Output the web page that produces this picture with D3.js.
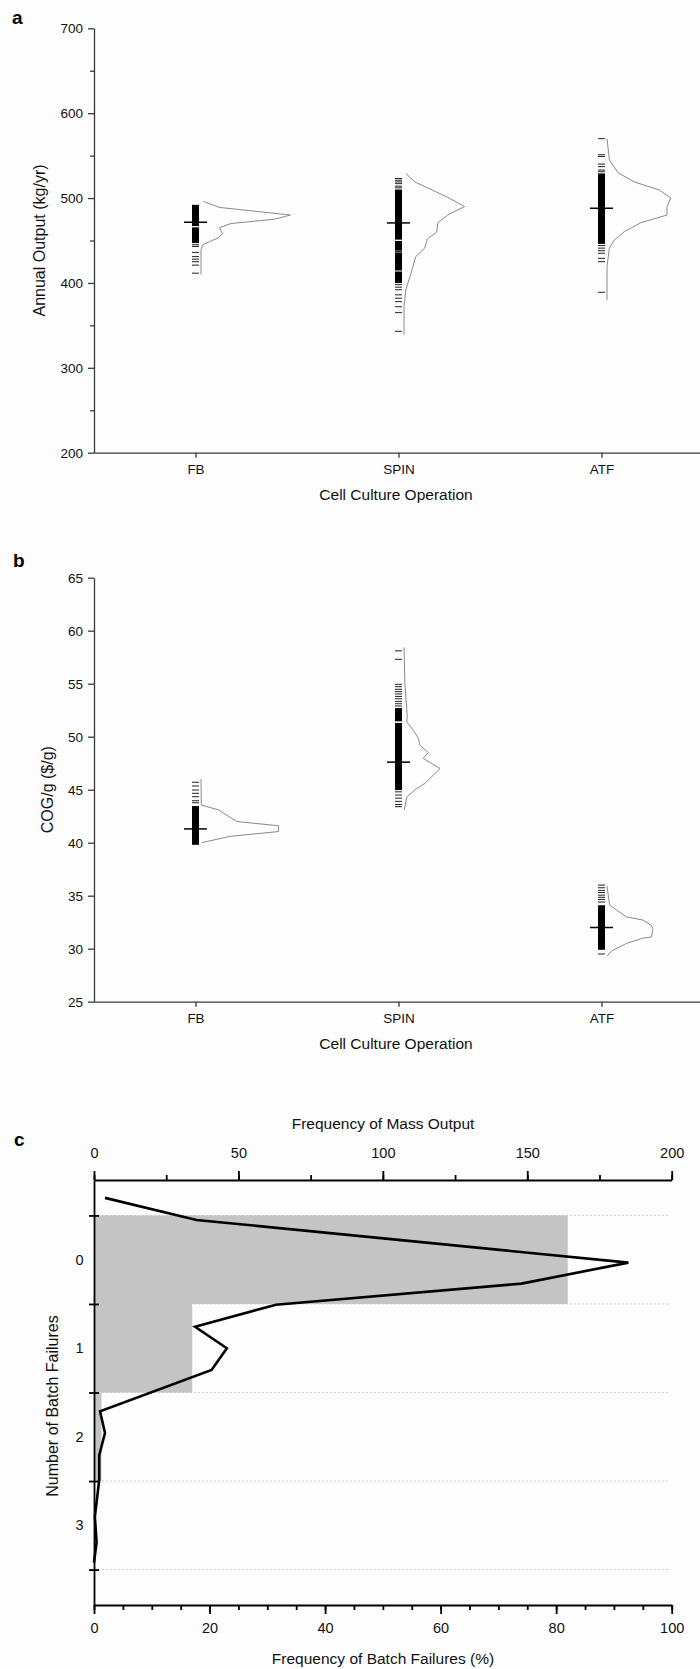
<!DOCTYPE html>
<html>
<head>
<meta charset="utf-8">
<script src="https://cdn.jsdelivr.net/npm/d3@7"></script>
<style>
  body { margin: 0; background: #fdfdfd; }
  svg { display: block; font-family: "Liberation Sans", Arial, sans-serif; }
  .ab .domain, .ab line { stroke: #3a3a3a; stroke-width: 1.3; }
  .ab text { font-size: 13.5px; fill: #111; }
  .cx .domain, .cx line { stroke: #000; stroke-width: 1.8; }
  .cx text { font-size: 14.5px; fill: #111; }
  .title { font-size: 15.5px; fill: #111; }
  .ytitle { font-size: 16px; fill: #111; }
  .tag { font-size: 19px; font-weight: bold; fill: #000; }
</style>
</head>
<body>
<svg id="chart" width="700" height="1669"></svg>
<script>
const categories = ["FB", "SPIN", "ATF"];

// panel a: annual output (kg/yr)
const outputMeans = [471.5, 470.7, 488];
const outputRugBands = [
    [[467, 492], [447, 465.5]],
    [[451, 510], [438, 449.5], [415, 436], [400, 413]],
    [[446, 529]]
];
const outputRugLines = [
    [445, 443, 436, 431, 428, 425, 421, 411.5],
    [523, 521, 519, 517, 514, 512, 437, 414, 398, 395, 392, 386, 382, 378, 372, 365, 343],
    [570, 551, 549, 540, 537, 533, 531, 444, 441, 438, 435, 429, 425, 389]
];
// distribution curves: [value, frequency %]
const outputDist = [
    [[496, 0.8], [489, 6.1], [480, 29.8], [475, 24.4], [470, 10], [465, 6.1], [458, 7.2], [453, 5.6], [445, 0.6], [439, 0], [410, 0]],
    [[529, 0.6], [519, 3.6], [501, 14.5], [490, 20.2], [480, 14.5], [471, 11.3], [460, 10.9], [452, 7.8], [441, 6.9], [431, 3.9], [417, 2.8], [407.5, 2.0], [392, 0.6], [372, 0], [339, 0]],
    [[570, 0], [545, 0.8], [530, 3.6], [519, 9.1], [509.5, 17.4], [500, 21.3], [490, 20], [480, 20], [471, 11.3], [460.5, 5.8], [450.6, 2.4], [441, 0.8], [419.5, 0], [380, 0]]
];

// panel b: COG/g ($/g)
const cogMeans = [41.3, 47.6, 32.0];
const cogRugBands = [
    [[39.8, 43.46]],
    [[51.45, 52.7], [44.97, 51.3]],
    [[29.9, 34.1]]
];
const cogRugLines = [
    [45.7, 45.35, 44.97, 44.66, 44.34, 43.96, 43.77],
    [58.1, 57.3, 54.94, 54.72, 54.47, 54.25, 54.03, 53.8, 53.58, 53.33, 53.11, 52.9,
     44.8, 44.5, 44.2, 43.9, 43.6, 43.4],
    [36.0, 35.75, 35.5, 35.3, 35.05, 34.85, 34.65, 34.4, 29.5]
];
const cogDist = [
    [[46.0, 0], [43.55, 0.1], [43.1, 5.8], [42.0, 11.9], [41.6, 25.8], [41.05, 25.8], [40.6, 9.7], [40.0, 0.2]],
    [[58.4, 0], [55.0, 0.3], [51.9, 1.1], [51.4, 0.9], [50.6, 3.1], [49.85, 4.8], [49.2, 5.3], [48.5, 8.1], [47.95, 6.4], [47.0, 12], [45.6, 7], [45.0, 3.7], [44.3, 0.9], [43.1, 0.1]],
    [[35.9, 0], [34.1, 0.9], [33.0, 6.5], [32.7, 12], [32.2, 14.8], [31.9, 15.3], [31.1, 14.8], [31.0, 12], [30.5, 6.5], [29.8, 1.6], [29.3, 0]]
];

// panel c: batch failures
const failureCounts = [0, 1, 2, 3];
const failurePct = [82, 17, 1.3, 0];
// frequency of mass output, positioned on the batch-failure axis
const massBins = [-0.698, -0.449, 0.033, 0.27, 0.508, 0.757, 1.0, 1.246, 1.713, 1.958, 2.21, 2.49, 2.905, 3.19, 3.42];
const massFreq = [3.8, 35.5, 185, 148, 63, 35, 46, 40.7, 2.1, 3.8, 1.8, 1.8, 0.3, 0.9, 0];

const svg = d3.select("#chart");

const xCat = d3.scaleLinear().domain([0.5, 3.5]).range([94, 703]);
const distW = d3.scaleLinear().domain([0, 30]).range([0, 90]);

function drawPanel(g, y, yTicks, yMinor, means, bands, lines, dists, yTitle, titleX, axisY) {
    g.append("g").attr("class", "ab")
        .attr("transform", `translate(${xCat.range()[0]},0)`)
        .call(d3.axisLeft(y).tickValues(yTicks).tickSize(6).tickPadding(5).tickSizeOuter(0));
    if (yMinor.length) {
        g.append("g").attr("class", "ab")
            .attr("transform", `translate(${xCat.range()[0]},0)`)
            .call(d3.axisLeft(y).tickValues(yMinor).tickSize(4).tickFormat("").tickSizeOuter(0))
            .select(".domain").remove();
    }
    g.append("g").attr("class", "ab")
        .attr("transform", `translate(0,${axisY})`)
        .call(d3.axisBottom(xCat).tickValues([1, 2, 3]).tickFormat(d => categories[d - 1])
            .tickSize(5).tickPadding(7).tickSizeOuter(0));

    categories.forEach((c, i) => {
        const cx = xCat(i + 1);
        const rug = g.append("g");
        bands[i].forEach(b => {
            rug.append("rect")
                .attr("x", cx - 3.5).attr("width", 7)
                .attr("y", y(b[1])).attr("height", y(b[0]) - y(b[1]))
                .attr("fill", "#000");
        });
        lines[i].forEach(v => {
            rug.append("line")
                .attr("x1", cx - 3.5).attr("x2", cx + 3.5)
                .attr("y1", y(v)).attr("y2", y(v))
                .attr("stroke", "#222").attr("stroke-width", 1);
        });
        g.append("line")
            .attr("x1", cx - 11.5).attr("x2", cx + 11.5)
            .attr("y1", y(means[i])).attr("y2", y(means[i]))
            .attr("stroke", "#000").attr("stroke-width", 1.5);
        const base = cx + 5.5;
        g.append("path")
            .datum(dists[i])
            .attr("fill", "none").attr("stroke", "#8a8a8a").attr("stroke-width", 1)
            .attr("d", d3.line().x(d => base + distW(d[1])).y(d => y(d[0])));
    });

    g.append("text").attr("class", "ytitle")
        .attr("transform", `translate(${titleX},${(y.range()[0] + y.range()[1]) / 2}) rotate(-90)`)
        .attr("text-anchor", "middle").attr("dominant-baseline", "central")
        .text(yTitle);
    g.append("text").attr("class", "title")
        .attr("x", 396).attr("y", axisY + 47)
        .attr("text-anchor", "middle")
        .text("Cell Culture Operation");
}

// panel a
const yA = d3.scaleLinear().domain([200, 700]).range([452.7, 28.3]);
const gA = svg.append("g");
drawPanel(gA, yA, d3.range(200, 701, 100), d3.range(250, 700, 100),
    outputMeans, outputRugBands, outputRugLines, outputDist, "Annual Output (kg/yr)", 39, 452.7);
svg.append("text").attr("class", "tag").attr("x", 12).attr("y", 24).text("a");

// panel b
const yB = d3.scaleLinear().domain([25, 65]).range([1001.7, 577.7]);
const gB = svg.append("g");
drawPanel(gB, yB, d3.range(25, 66, 5), [],
    cogMeans, cogRugBands, cogRugLines, cogDist, "COG/g ($/g)", 47, 1001.7);
svg.append("text").attr("class", "tag").attr("x", 13).attr("y", 567).text("b");

// panel c
const xPct = d3.scaleLinear().domain([0, 100]).range([94, 671.7]);
const xMass = d3.scaleLinear().domain([0, 200]).range([94, 671.7]);
const yC = d3.scaleLinear().domain([-0.9, 3.9]).range([1180, 1605]);
const gC = svg.append("g");

// dotted grid at bin edges
gC.selectAll("line.grid")
    .data([-0.5, 0.5, 1.5, 2.5, 3.5])
    .enter().append("line")
    .attr("x1", xPct(0)).attr("x2", 670)
    .attr("y1", d => yC(d)).attr("y2", d => yC(d))
    .attr("stroke", "#cfcfcf").attr("stroke-width", 1).attr("stroke-dasharray", "2,2");

gC.selectAll("rect.bar")
    .data(failureCounts)
    .enter().append("rect")
    .attr("x", xPct(0))
    .attr("y", d => yC(d - 0.5))
    .attr("width", (d, i) => xPct(failurePct[i]) - xPct(0))
    .attr("height", d => yC(d + 0.5) - yC(d - 0.5))
    .attr("fill", "#c4c4c4");

gC.append("path")
    .datum(massBins.map((b, i) => [massFreq[i], b]))
    .attr("fill", "none").attr("stroke", "#000").attr("stroke-width", 2.6)
    .attr("stroke-linejoin", "miter")
    .attr("d", d3.line().x(d => xMass(d[0])).y(d => yC(d[1])));

// bottom axis
gC.append("g").attr("class", "cx")
    .attr("transform", `translate(0,${yC.range()[1]})`)
    .call(d3.axisBottom(xPct).tickValues(d3.range(0, 101, 5)).tickSize(5).tickFormat("").tickSizeOuter(0));
gC.append("g").attr("class", "cx")
    .attr("transform", `translate(0,${yC.range()[1]})`)
    .call(d3.axisBottom(xPct).tickValues(d3.range(0, 101, 20)).tickSize(9).tickPadding(9).tickSizeOuter(0))
    .select(".domain").remove();

// top axis
gC.append("g").attr("class", "cx")
    .attr("transform", `translate(0,${yC.range()[0]})`)
    .call(d3.axisTop(xMass).tickValues(d3.range(0, 201, 25)).tickSize(5).tickFormat("").tickSizeOuter(0));
gC.append("g").attr("class", "cx")
    .attr("transform", `translate(0,${yC.range()[0]})`)
    .call(d3.axisTop(xMass).tickValues(d3.range(0, 201, 50)).tickSize(9).tickPadding(13).tickSizeOuter(0))
    .select(".domain").remove();

// left axis: crossing ticks at bin edges, labels at counts
const leftAx = gC.append("g").attr("class", "cx")
    .attr("transform", `translate(${xPct(0)},0)`)
    .call(d3.axisLeft(yC).tickValues([-0.5, 0.5, 1.5, 2.5, 3.5]).tickSize(5).tickFormat("").tickSizeOuter(0));
leftAx.selectAll(".tick line").attr("x1", 5);
gC.append("g").attr("class", "cx")
    .attr("transform", `translate(${xPct(0)},0)`)
    .call(d3.axisLeft(yC).tickValues(failureCounts).tickFormat(d3.format("d")).tickSize(0).tickPadding(10.5))
    .select(".domain").remove();

gC.append("text").attr("class", "title")
    .attr("x", 383).attr("y", 1123).attr("text-anchor", "middle").attr("dominant-baseline", "central")
    .text("Frequency of Mass Output");
gC.append("text").attr("class", "title")
    .attr("x", 383).attr("y", 1658).attr("text-anchor", "middle").attr("dominant-baseline", "central")
    .text("Frequency of Batch Failures (%)");
gC.append("text").attr("class", "ytitle")
    .attr("transform", "translate(52,1406) rotate(-90)")
    .attr("text-anchor", "middle").attr("dominant-baseline", "central")
    .text("Number of Batch Failures");
svg.append("text").attr("class", "tag").attr("x", 14).attr("y", 1146).text("c");
</script>
</body>
</html>
